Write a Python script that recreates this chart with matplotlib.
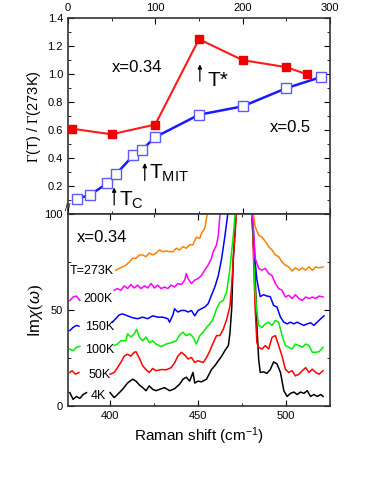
import numpy as np
import matplotlib
matplotlib.use("Agg")
import matplotlib.pyplot as plt
from matplotlib.ticker import MultipleLocator

plt.rcParams['font.family'] = ['Liberation Sans', 'DejaVu Sans']
plt.rcParams['mathtext.fontset'] = 'custom'
plt.rcParams['mathtext.rm'] = 'Liberation Serif'
plt.rcParams['mathtext.sf'] = 'Liberation Sans'
plt.rcParams['mathtext.it'] = 'Liberation Sans:italic'

nan = np.nan

# top panel: linewidth ratio vs temperature
t_034 = [5, 50, 100, 150, 200, 250, 273]
g_034 = [0.61, 0.57, 0.64, 1.25, 1.10, 1.05, 1.00]
t_05 = [10, 25, 45, 55, 75, 85, 100, 150, 200, 250, 290]
g_05 = [0.11, 0.135, 0.22, 0.285, 0.42, 0.46, 0.55, 0.71, 0.77, 0.90, 0.98]

# bottom panel: Raman spectra (nan = gap under labels / around phonon peak)
x_4k = [377.1, 379.0, 380.9, 382.8, 384.7, 386.6, nan,
        400.0, 402.3, 404.2, 407.1, 409.9, 412.8, 414.7, 416.6, 418.5, 420.4, 422.3, 424.2,
        426.1, 428.1, 430.9, 433.8, 436.6, 439.5, 441.4, 443.3, 445.2, 447.1, 448.1, 450.0,
        451.9, 454.8, 457.6, 459.5, 461.5, 463.4, 465.3, 467.2, 468.1, 469.1, 470.0, 471.4, nan,
        480.6, 482.4, 483.4, 484.4, 485.3, 487.2, 489.1, 491.0, 492.9, 494.8, 496.8, 498.7,
        500.6, 502.5, 504.4, 506.3, 508.2, 510.1, 512.0, 513.9, 515.8, 517.7, 519.7, 521.0]
y_4k = [7, 3.5, 5, 4, 6, 7, nan,
        7, 4.4, 6, 8.7, 12, 14, 13, 11, 9.6, 8, 10.5, 8.7,
        8, 8.7, 9.6, 8, 9, 11.4, 14, 15, 13, 17.5, 12, 13,
        12.6, 14, 19, 21, 23.6, 26, 29, 31.5, 38, 51, 77, 98, nan,
        98, 68, 42, 24.5, 17.5, 17.8, 17, 19, 23, 22, 17.5, 8,
        5, 6.6, 7.3, 6, 7.3, 6.6, 8, 5, 6, 5, 6, 5]

x_50k = [377.1, 378.4, 380.3, 382.3, nan,
         400.0, 402.3, 404.2, 406.1, 408.0, 409.9, 411.8, 413.7, 414.7, 416.6, 418.5, 420.4,
         422.3, 424.2, 426.1, 429.0, 431.9, 434.7, 436.6, 438.5, 440.5, 442.4, 444.3, 446.2,
         448.1, 450.0, 452.9, 454.8, 456.7, 458.6, 460.5, 462.4, 464.3, 466.2, 468.1, 469.1,
         470.0, 471.0, 472.0, nan,
         480.6, 481.5, 482.4, 483.4, 484.4, 486.3, 488.2, 490.1, 492.0, 493.9, 495.8, 497.7,
         499.6, 501.5, 503.4, 505.3, 507.3, 509.2, 511.1, 513.0, 514.9, 516.8, 518.7, 521.0]
y_50k = [17.5, 18.4, 16.6, 17.5, nan,
         16.6, 17.5, 20, 22.7, 26, 27, 26, 28, 28.3, 25, 21, 19,
         17.5, 19.6, 18.4, 19, 18.9, 20, 22.4, 26, 28, 26.6, 24.5, 25.3,
         22.7, 23.6, 22.7, 25.3, 28.8, 33, 36.7, 36.7, 40, 45, 52, 63,
         77, 89, 105, nan,
         105, 77, 51, 33, 30.6, 29.7, 31.5, 29.7, 35.8, 36.7, 31.5, 26,
         19.2, 17.5, 18.4, 15.7, 16.6, 18.4, 20, 17.5, 19.2, 17.5, 16.6, 18.4]

x_100k = [377.1, 379.0, 380.9, 382.8, nan,
          402.3, 404.2, 406.1, 409.0, 409.9, 411.8, 413.7, 415.1, 416.6, 418.5, 420.4, 422.3,
          424.2, 426.1, 429.0, 431.9, 434.7, 437.6, 439.5, 441.4, 443.3, 445.2, 447.1, 449.0,
          451.0, 452.9, 454.8, 456.7, 458.6, 460.5, 462.4, 464.3, 466.2, 468.1, 470.0, 471.0,
          472.0, nan,
          480.6, 481.5, 482.4, 483.4, 484.4, 486.3, 488.2, 490.1, 492.0, 493.9, 495.8, 497.7,
          499.6, 501.5, 503.4, 505.3, 507.3, 509.2, 511.1, 513.0, 514.9, 516.8, 518.7, 521.0]
y_100k = [29.7, 28.8, 30.6, 31.1, nan,
          31.5, 32.3, 34, 34, 37.6, 36, 37.6, 40, 36, 34, 36, 33,
          34, 32.3, 31, 32.3, 33, 34, 37, 38.5, 36.7, 37.6, 36, 32.3,
          36.7, 38.5, 41, 42.8, 45.5, 50.7, 54, 55, 59.4, 71.7, 89, 99.6,
          105, nan,
          105, 85.7, 59.4, 49, 42, 41, 42.8, 43.7, 42, 44.6, 43.7, 36.7,
          31.5, 30.6, 29.7, 32.3, 31.5, 30.6, 32.3, 31.5, 28, 28, 28.3, 30.6]

x_150k = [377.1, 379.0, 380.9, 382.3, nan,
          401.3, 403.2, 405.2, 407.1, 409.9, 412.8, 415.6, 418.5, 421.4, 424.2, 427.1, 430.0,
          432.8, 433.8, 435.7, 436.6, 438.5, 440.5, 442.4, 444.3, 446.2, 448.1, 450.0, 451.9,
          453.8, 455.7, 457.6, 459.5, 461.5, 463.4, 465.3, 466.8, 467.5, nan,
          480.6, 482.4, 483.4, 484.4, 485.3, 487.2, 489.1, 491.0, 492.9, 494.8, 496.8, 498.7,
          500.6, 502.5, 504.4, 506.3, 508.2, 510.1, 512.0, 513.9, 515.8, 517.7, 519.7, 521.5]
y_150k = [39.3, 41, 42, 41.6, nan,
          43.7, 45.5, 47.5, 48, 47, 46, 45.5, 46.3, 45.5, 47, 46.3, 46.3,
          45.5, 43.7, 47.5, 50.7, 49, 49.8, 49.8, 49, 49.8, 47, 49.8, 50.7,
          51.6, 53.3, 57.7, 62, 68, 77, 89, 99.6, 105, nan,
          105, 75, 66, 61, 57, 58, 57.3, 57, 52.4, 51.6, 46.3, 43.7,
          42.8, 43.7, 42.8, 43.7, 42.8, 42, 42.8, 43.4, 42, 43.7, 45.5, 47]

x_200k = [377.1, 379.0, 380.9, 382.8, nan,
          402.3, 404.2, 406.1, 408.0, 409.9, 411.8, 413.7, 415.6, 417.6, 419.5, 421.4, 423.3,
          425.2, 427.1, 429.0, 430.9, 432.8, 434.7, 436.6, 438.5, 440.5, 442.4, 443.3, 444.3,
          446.2, 448.1, 450.0, 451.9, 453.8, 455.7, 457.6, 458.6, 460.5, 461.5, 462.4, 463.0, nan,
          480.6, 482.4, 484.4, 486.3, 488.2, 490.1, 492.0, 493.9, 495.8, 497.7, 499.6, 501.5,
          503.4, 505.3, 507.3, 509.2, 511.1, 513.0, 514.9, 516.8, 518.7, 521.0]
y_200k = [55, 56.8, 57.3, 55, nan,
          60.3, 61.2, 60.3, 62.6, 61.2, 63.3, 61.5, 63, 61.2, 62.6, 61.5, 63.8,
          61.5, 63, 61.2, 62, 61.2, 63, 62, 63.8, 63.3, 65.6, 69, 66.4,
          63.8, 65.6, 66.4, 68, 70.8, 73.4, 77, 80.4, 84, 89, 99.6, 105, nan,
          105, 77, 71.7, 70.8, 71.7, 69, 68, 63.8, 61.2, 60.3, 56.8, 57.7,
          56, 58, 56, 55, 56.8, 56, 56.8, 56, 57.3, 56.8]

x_273k = [403.2, 405.2, 407.1, 409.0, 410.9, 412.8, 414.7, 416.6, 418.5, 420.4, 422.3, 424.2,
          426.1, 428.1, 430.0, 431.9, 433.8, 435.7, 437.6, 439.5, 441.4, 443.3, 445.2, 447.1,
          449.0, 451.0, 451.9, 453.8, 454.8, 455.3, 456.0, nan,
          480.6, 482.4, 484.4, 486.3, 488.2, 490.1, 492.0, 493.9, 495.8, 497.7, 499.6, 501.5,
          503.4, 505.3, 507.3, 509.2, 511.1, 513.0, 514.9, 516.8, 518.7, 521.0]
y_273k = [70.8, 71.7, 72.5, 73.4, 75, 77, 77, 78.7, 78.7, 77.8, 79.7, 78.7,
          79.7, 81.3, 80.4, 80.8, 80.4, 80.4, 82.2, 81.3, 83, 82.2, 84, 84,
          88, 87.4, 90, 92.7, 97.9, 100, 105, nan,
          105, 93.5, 89, 88, 85.7, 83, 81.3, 78.7, 77.8, 75, 73.4, 72.5,
          70.3, 72, 70.8, 72, 70.8, 72.5, 70.8, 72.5, 72, 72.5]

spec_labels = ['4K', '50K', '100K', '150K', '200K', 'T=273K']
spec_colors = ['black', '#ff0000', '#00ee00', '#0000ff', '#ff00ff', '#ff8000']
label_pos = [(389, 5), (387.5, 16), (386, 29), (386, 41), (385, 56), (377, 70.5)]

fig = plt.figure(figsize=(3.79, 4.91), dpi=100)
ax1 = fig.add_axes([0.179, 0.564, 0.692, 0.399])
ax2 = fig.add_axes([0.179, 0.173, 0.692, 0.391])

# ---- top panel
ax1.plot(t_034, g_034, color='#ff1a1a', lw=1.5, marker='s', ms=6,
         mfc='#ee0000', mec='#ee0000', zorder=3)
ax1.plot(t_05, g_05, color='#1a1aff', lw=1.8, marker='s', ms=6.5,
         mfc='white', mec='#5a5aff', mew=1.0, zorder=3)
ax1.set_xlim(0, 300)
ax1.set_ylim(0, 1.4)
ax1.xaxis.set_major_locator(MultipleLocator(100))
ax1.xaxis.set_minor_locator(MultipleLocator(50))
ax1.yaxis.set_major_locator(MultipleLocator(0.2))
ax1.yaxis.set_minor_locator(MultipleLocator(0.1))
ax1.tick_params(which='both', direction='in', top=True, right=True, bottom=True,
                labeltop=True, labelbottom=False, labelsize=8)
ax1.tick_params(which='major', length=4)
ax1.tick_params(which='minor', length=2.5)
ax1.set_yticks([0.2, 0.4, 0.6, 0.8, 1.0, 1.2, 1.4])
ax1.set_yticklabels(['0.2', '0.4', '0.6', '0.8', '1.0', '1.2', '1.4'])
ax1.set_ylabel(r'$\mathrm{\Gamma}$(T) / $\mathrm{\Gamma}$(273K)', fontsize=10.5)
ax1.yaxis.set_label_coords(-0.095, 0.5)
ax1.text(50, 1.05, 'x=0.34', fontsize=12, va='center')
ax1.text(231, 0.62, 'x=0.5', fontsize=12, va='center')

arrow = dict(arrowstyle='-|>', color='black', lw=0.9, mutation_scale=6)
ax1.annotate('', xy=(151, 1.09), xytext=(151, 0.93), arrowprops=arrow)
ax1.text(160, 0.955, 'T*', fontsize=15, va='center')
ax1.annotate('', xy=(88, 0.385), xytext=(88, 0.22), arrowprops=arrow)
ax1.text(93, 0.29, r'T$_{\mathsf{MIT}}$', fontsize=15, va='center')
ax1.annotate('', xy=(53, 0.21), xytext=(53, 0.045), arrowprops=arrow)
ax1.text(59, 0.1, r'T$_{\mathsf{C}}$', fontsize=15, va='center')
# axis break mark
ax1.text(0, 0.04, '//', fontsize=7, ha='center', va='center', clip_on=False)
for sp in ax1.spines.values():
    sp.set_linewidth(1.2)
    sp.set_color('#333333')

# ---- bottom panel
spectra = [(x_4k, y_4k), (x_50k, y_50k), (x_100k, y_100k),
           (x_150k, y_150k), (x_200k, y_200k), (x_273k, y_273k)]
for (xs, ys), c in zip(spectra, spec_colors):
    ax2.plot(xs, ys, color=c, lw=1.1)
for lab, (lx, ly) in zip(spec_labels, label_pos):
    ax2.text(lx, ly, lab, fontsize=9, va='center', ha='left')
ax2.text(381, 88, 'x=0.34', fontsize=12, va='center')
ax2.set_xlim(376, 525)
ax2.set_ylim(0, 100)
ax2.xaxis.set_major_locator(MultipleLocator(50))
ax2.xaxis.set_minor_locator(MultipleLocator(25))
ax2.yaxis.set_major_locator(MultipleLocator(50))
ax2.yaxis.set_minor_locator(MultipleLocator(25))
ax2.tick_params(which='both', direction='in', top=True, right=True, labelsize=8)
ax2.tick_params(which='major', length=4)
ax2.tick_params(which='minor', length=2.5)
ax2.set_xlabel(r'Raman shift (cm$^{\mathsf{-1}}$)', fontsize=11, labelpad=3)
ax2.set_ylabel(r'Im$\chi(\omega)$', fontsize=12)
ax2.yaxis.set_label_coords(-0.085, 0.5)
for sp in ax2.spines.values():
    sp.set_linewidth(1.2)
    sp.set_color('#333333')

fig.savefig('out.png', dpi=100)
